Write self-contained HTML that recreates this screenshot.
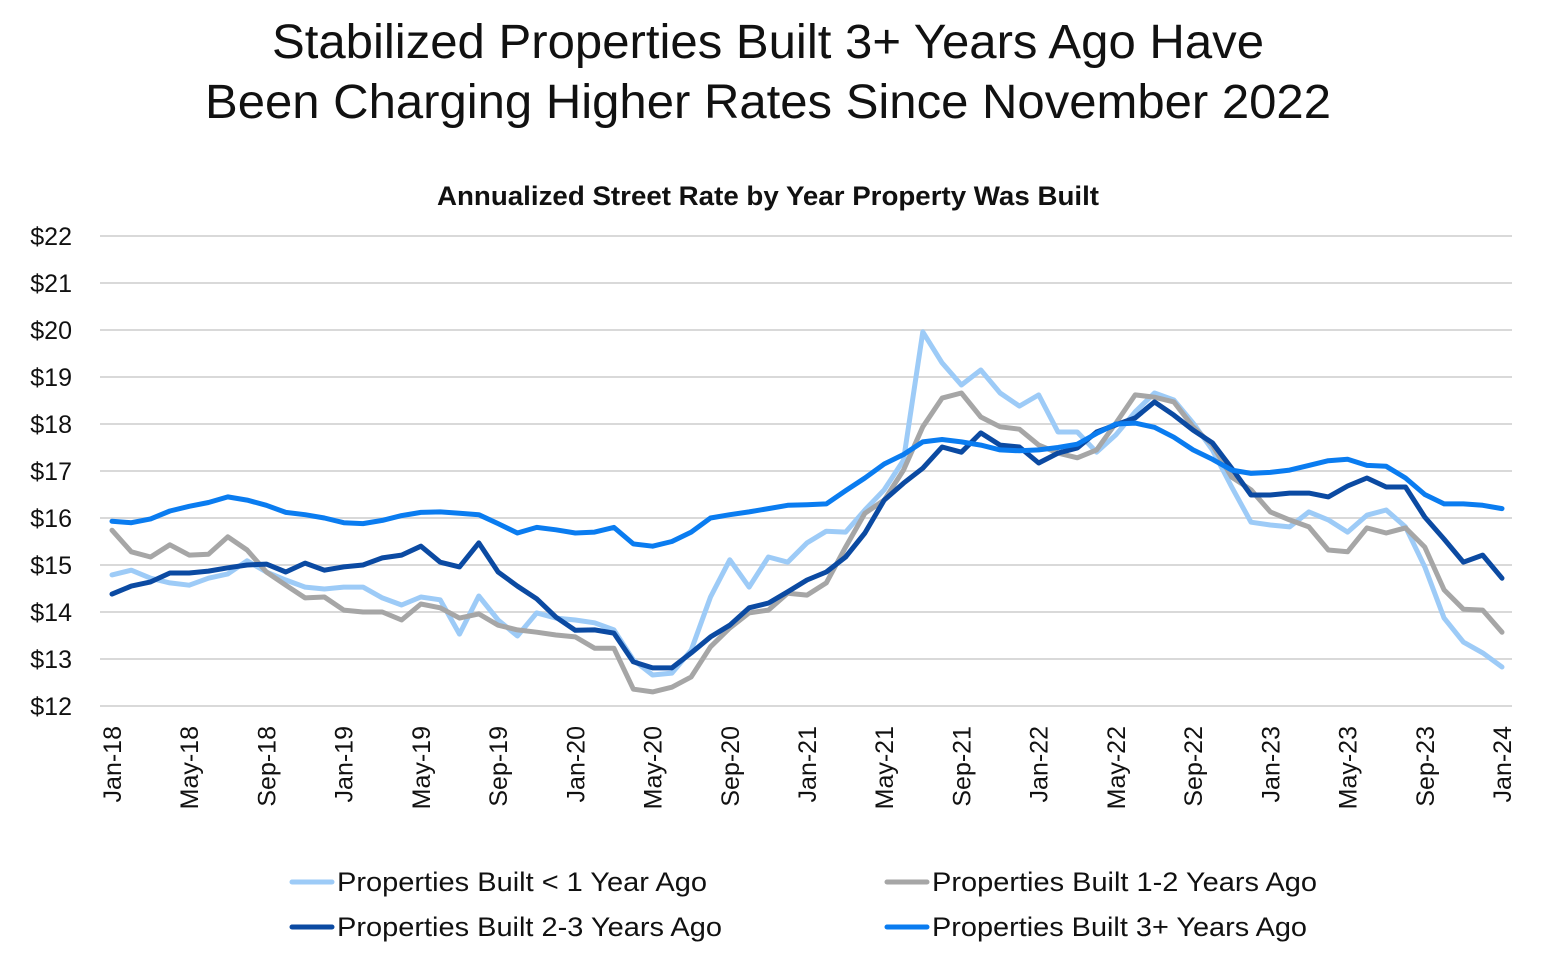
<!DOCTYPE html>
<html><head><meta charset="utf-8"><style>
html,body{margin:0;padding:0;background:#fff;}
svg{display:block;font-family:"Liberation Sans","DejaVu Sans",sans-serif;}
</style></head><body>
<svg id="chart" width="1542" height="960" viewBox="0 0 1542 960" xmlns="http://www.w3.org/2000/svg">
<text x="272" y="58" textLength="992" lengthAdjust="spacingAndGlyphs" font-size="48" fill="#111">Stabilized Properties Built 3+ Years Ago Have</text>
<text x="205" y="118" textLength="1126" lengthAdjust="spacingAndGlyphs" font-size="48" fill="#111">Been Charging Higher Rates Since November 2022</text>
<text x="437" y="205" textLength="662" lengthAdjust="spacingAndGlyphs" font-size="27" font-weight="bold" fill="#111">Annualized Street Rate by Year Property Was Built</text>
<g id="grid"></g>
<g id="yticks"></g>
<g id="xticks"></g>
<g id="series"></g>
<g id="legend"></g>
</svg>
<script>
const yTicks=[12,13,14,15,16,17,18,19,20,21,22];
const xTickLabels=["Jan-18","May-18","Sep-18","Jan-19","May-19","Sep-19","Jan-20","May-20","Sep-20","Jan-21","May-21","Sep-21","Jan-22","May-22","Sep-22","Jan-23","May-23","Sep-23","Jan-24"];
const seriesNames=["Properties Built < 1 Year Ago","Properties Built 1-2 Years Ago","Properties Built 2-3 Years Ago","Properties Built 3+ Years Ago"];
const under1=[14.79,14.89,14.72,14.62,14.57,14.72,14.81,15.09,14.85,14.68,14.53,14.49,14.53,14.53,14.3,14.15,14.32,14.26,13.53,14.34,13.83,13.49,13.98,13.87,13.83,13.77,13.62,12.98,12.66,12.7,13.19,14.32,15.11,14.53,15.17,15.06,15.47,15.72,15.7,16.17,16.6,17.23,19.96,19.3,18.83,19.15,18.66,18.38,18.62,17.83,17.83,17.4,17.77,18.26,18.66,18.51,18.02,17.45,16.66,15.91,15.85,15.81,16.13,15.96,15.7,16.06,16.17,15.81,14.96,13.87,13.36,13.13,12.83];
const yrs1to2=[15.74,15.28,15.17,15.43,15.21,15.23,15.6,15.32,14.85,14.57,14.3,14.32,14.04,14.0,14.0,13.83,14.17,14.09,13.87,13.96,13.72,13.62,13.57,13.51,13.47,13.23,13.23,12.36,12.3,12.4,12.62,13.26,13.66,13.98,14.04,14.4,14.36,14.62,15.38,16.1,16.38,17.02,17.94,18.55,18.66,18.15,17.94,17.89,17.55,17.38,17.28,17.45,18.02,18.62,18.57,18.47,17.94,17.55,16.87,16.6,16.13,15.96,15.81,15.32,15.28,15.79,15.68,15.79,15.38,14.47,14.06,14.04,13.57];
const yrs2to3=[14.38,14.55,14.64,14.83,14.83,14.87,14.94,15.0,15.02,14.85,15.04,14.89,14.96,15.0,15.15,15.21,15.4,15.06,14.96,15.47,14.85,14.55,14.28,13.89,13.61,13.62,13.55,12.94,12.81,12.81,13.13,13.47,13.72,14.09,14.19,14.43,14.68,14.85,15.17,15.68,16.38,16.74,17.06,17.51,17.4,17.81,17.55,17.51,17.17,17.38,17.49,17.83,17.98,18.13,18.47,18.19,17.87,17.6,17.06,16.49,16.49,16.53,16.53,16.45,16.68,16.85,16.66,16.66,16.02,15.55,15.06,15.21,14.72];
const yrs3plus=[15.93,15.9,15.98,16.15,16.25,16.33,16.45,16.38,16.27,16.12,16.07,16.0,15.9,15.88,15.95,16.05,16.12,16.13,16.1,16.07,15.88,15.68,15.8,15.75,15.68,15.7,15.8,15.45,15.4,15.5,15.7,16.0,16.07,16.13,16.2,16.27,16.28,16.3,16.58,16.85,17.15,17.35,17.62,17.67,17.62,17.55,17.45,17.43,17.45,17.5,17.57,17.8,18.0,18.02,17.93,17.72,17.45,17.25,17.02,16.95,16.97,17.02,17.12,17.22,17.25,17.12,17.1,16.85,16.5,16.3,16.3,16.27,16.2];

const NS="http://www.w3.org/2000/svg";
const X0=112,X1=1502,Y0=706,Y1=236,YMIN=12,YMAX=22;
const nPts=under1.length;
function xs(i){return X0+(X1-X0)*i/(nPts-1);}
function ys(v){return Y0-(v-YMIN)/(YMAX-YMIN)*(Y0-Y1);}
function mk(tag,attrs,parent){const e=document.createElementNS(NS,tag);for(const k in attrs)e.setAttribute(k,attrs[k]);parent.appendChild(e);return e;}

const grid=document.getElementById('grid');
const yg=document.getElementById('yticks');
yTicks.forEach(v=>{
  const l=mk('line',{x1:100,x2:1512,y1:ys(v),y2:ys(v),stroke:'#d9d9d9','stroke-width':2},grid);
  
  
  const t=mk('text',{x:72,y:ys(v)+9,'text-anchor':'end','font-size':25,fill:'#111'},yg);
  t.textContent='$'+v;
  
  
});
const xg=document.getElementById('xticks');
xTickLabels.forEach((lab,k)=>{
  const x=xs(k*4);
  const t=mk('text',{x:0,y:0,'text-anchor':'end','font-size':25,fill:'#111',transform:`translate(${x+9},726) rotate(-90)`},xg);
  t.textContent=lab;
  
  
});
const colors=['#9dcbf7','#a6a6a6','#0b4aa2','#0a7cf0'];
const data=[under1,yrs1to2,yrs2to3,yrs3plus];
const sg=document.getElementById('series');
const names=['series-under-1-year','series-1-2-years','series-2-3-years','series-3plus-years'];
data.forEach((arr,s)=>{
  const d=arr.map((v,i)=>(i?'L':'M')+xs(i).toFixed(1)+','+ys(v).toFixed(1)).join(' ');
  const p=mk('path',{d:d,fill:'none',stroke:colors[s],'stroke-width':5,'stroke-linejoin':'round','stroke-linecap':'round'},sg);
  
  
});
const lg=document.getElementById('legend');
const lpos=[[292,882],[887,882],[292,927],[887,927]];
const lwid=[370,385,385,375];
seriesNames.forEach((n,s)=>{
  const [lx,ly]=lpos[s];
  const g=mk('g',{},lg);
  
  
  mk('line',{x1:lx,x2:lx+40,y1:ly,y2:ly,stroke:colors[s],'stroke-width':5,'stroke-linecap':'round'},g);
  const t=mk('text',{x:lx+45,y:ly+9,'font-size':27,fill:'#111',textLength:lwid[s],lengthAdjust:'spacingAndGlyphs'},g);
  t.textContent=n;
});
</script>
</body></html>
